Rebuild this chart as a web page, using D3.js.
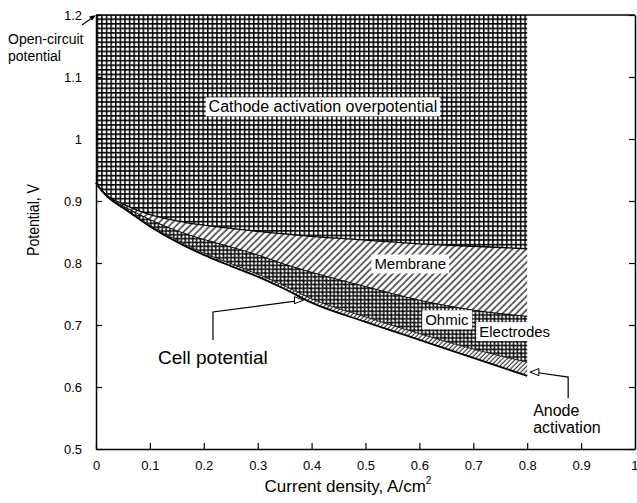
<!DOCTYPE html>
<html>
<head>
<meta charset="utf-8">
<title>Cell potential breakdown</title>
<script src="https://cdn.jsdelivr.net/npm/d3@7"></script>
<style>
  body { margin: 0; background: white; }
  text { font-family: "Liberation Sans", Arial, sans-serif; fill: #000; }
</style>
</head>
<body>
<div id="chart"></div>
<script>
  // current density, A/cm2
  var currentDensity = [0, 0.01, 0.025, 0.05, 0.1, 0.15, 0.2, 0.25, 0.3, 0.35, 0.4, 0.5, 0.6, 0.7, 0.8];
  // potential at the lower edge of each loss band, V
  var cathodeEdge  = [0.929, 0.918, 0.906, 0.895, 0.878, 0.868, 0.861, 0.856, 0.851, 0.847, 0.843, 0.837, 0.831, 0.827, 0.823];
  var membraneEdge = [0.929, 0.917, 0.904, 0.892, 0.870, 0.852, 0.838, 0.826, 0.813, 0.798, 0.785, 0.762, 0.740, 0.724, 0.714];
  var anodeEdge    = [0.929, 0.918, 0.905, 0.890, 0.861, 0.837, 0.816, 0.799, 0.782, 0.763, 0.742, 0.713, 0.686, 0.661, 0.640];
  var cellPotential = [0.929, 0.917, 0.904, 0.889, 0.859, 0.834, 0.813, 0.795, 0.778, 0.758, 0.736, 0.705, 0.676, 0.647, 0.618];

  var xTicks = [0, 0.1, 0.2, 0.3, 0.4, 0.5, 0.6, 0.7, 0.8, 0.9, 1];
  var xTickLabels = ["0", "0.1", "0.2", "0.3", "0.4", "0.5", "0.6", "0.7", "0.8", "0.9", "1"];
  var yTicks = [0.5, 0.6, 0.7, 0.8, 0.9, 1, 1.1, 1.2];
  var yTickLabels = ["0.5", "0.6", "0.7", "0.8", "0.9", "1", "1.1", "1.2"];

  var width = 637;
  var height = 503;
  var x = d3.scaleLinear().domain([0, 1]).range([96, 635]);
  var y = d3.scaleLinear().domain([0.5, 1.2]).range([449, 15]);

  var svg = d3.select("#chart").append("svg")
    .attr("width", width)
    .attr("height", height);

  var defs = svg.append("defs");

  // fill patterns
  var grid = defs.append("pattern").attr("id", "grid")
    .attr("patternUnits", "userSpaceOnUse").attr("width", 4.6).attr("height", 4.6);
  grid.append("rect").attr("width", 4.6).attr("height", 4.6).attr("fill", "white");
  grid.append("path").attr("d", "M0,0.75H4.6M0.75,0V4.6")
    .attr("stroke", "#000").attr("stroke-width", 1.5);

  var hatch = defs.append("pattern").attr("id", "hatch")
    .attr("patternUnits", "userSpaceOnUse").attr("width", 4.8).attr("height", 4.8)
    .attr("patternTransform", "rotate(45)");
  hatch.append("rect").attr("width", 4.8).attr("height", 4.8).attr("fill", "white");
  hatch.append("line").attr("x1", 1).attr("x2", 1).attr("y1", 0).attr("y2", 4.8)
    .attr("stroke", "#000").attr("stroke-width", 1.2);

  var rings = defs.append("pattern").attr("id", "rings")
    .attr("patternUnits", "userSpaceOnUse").attr("width", 5.4).attr("height", 5.4)
    .attr("patternTransform", "rotate(45)");
  rings.append("rect").attr("width", 5.4).attr("height", 5.4).attr("fill", "white");
  rings.append("circle").attr("cx", 2.7).attr("cy", 2.7).attr("r", 2.1)
    .attr("fill", "none").attr("stroke", "#000").attr("stroke-width", 1.3);

  var fine = defs.append("pattern").attr("id", "fine")
    .attr("patternUnits", "userSpaceOnUse").attr("width", 3.2).attr("height", 3.2)
    .attr("patternTransform", "rotate(45)");
  fine.append("rect").attr("width", 3.2).attr("height", 3.2).attr("fill", "white");
  fine.append("line").attr("x1", 1).attr("x2", 1).attr("y1", 0).attr("y2", 3.2)
    .attr("stroke", "#000").attr("stroke-width", 0.9);

  var rows = currentDensity.map(function (d, i) {
    return { i: d, cathode: cathodeEdge[i], membrane: membraneEdge[i], anode: anodeEdge[i], cell: cellPotential[i] };
  });

  function band(lo, hi) {
    return d3.area()
      .x(function (d) { return x(d.i); })
      .y0(function (d) { return y(d[lo]); })
      .y1(function (d) { return hi ? y(d[hi]) : y(1.2); })
      .curve(d3.curveMonotoneX);
  }
  function edge(key) {
    return d3.line()
      .x(function (d) { return x(d.i); })
      .y(function (d) { return y(d[key]); })
      .curve(d3.curveMonotoneX);
  }

  svg.append("path").attr("d", band("cathode", null)(rows)).attr("fill", "url(#grid)");
  svg.append("path").attr("d", band("membrane", "cathode")(rows)).attr("fill", "url(#hatch)");
  svg.append("path").attr("d", band("anode", "membrane")(rows)).attr("fill", "url(#rings)");
  svg.append("path").attr("d", band("cell", "anode")(rows)).attr("fill", "url(#fine)");

  svg.append("path").attr("d", edge("cathode")(rows)).attr("fill", "none").attr("stroke", "#000").attr("stroke-width", 1.3);
  svg.append("path").attr("d", edge("membrane")(rows)).attr("fill", "none").attr("stroke", "#000").attr("stroke-width", 1);
  svg.append("path").attr("d", edge("anode")(rows)).attr("fill", "none").attr("stroke", "#000").attr("stroke-width", 0.8);
  svg.append("path").attr("d", edge("cell")(rows)).attr("fill", "none").attr("stroke", "#000").attr("stroke-width", 1.8);

  // axes, ticks point inward
  var xAxis = svg.append("g").attr("transform", "translate(0," + y(0.5) + ")")
    .call(d3.axisBottom(x).tickValues(xTicks)
      .tickFormat(function (d, i) { return xTickLabels[i]; })
      .tickSizeInner(-6).tickSizeOuter(0).tickPadding(12));
  var yAxis = svg.append("g").attr("transform", "translate(" + x(0) + ",0)")
    .call(d3.axisLeft(y).tickValues(yTicks)
      .tickFormat(function (d, i) { return yTickLabels[i]; })
      .tickSizeInner(-6).tickSizeOuter(0).tickPadding(14));
  var rAxis = svg.append("g").attr("transform", "translate(" + x(1) + ",0)")
    .call(d3.axisRight(y).tickValues(yTicks).tickFormat("")
      .tickSizeInner(-6).tickSizeOuter(0));
  svg.append("line").attr("x1", x(0)).attr("x2", x(1)).attr("y1", y(1.2)).attr("y2", y(1.2))
    .attr("stroke", "#000").attr("stroke-width", 1.5);

  [xAxis, yAxis, rAxis].forEach(function (g) {
    g.selectAll(".domain").attr("stroke-width", 1.5);
    g.selectAll(".tick line").attr("stroke-width", 1.2);
    g.selectAll("text").attr("font-size", 13).attr("font-family", "Liberation Sans, Arial, sans-serif");
  });
  // last label sits on the window edge
  xAxis.selectAll(".tick text").filter(function (d) { return d === 1; })
    .attr("text-anchor", "end").attr("dx", 3);

  // axis titles
  var xt = svg.append("text").attr("x", 348).attr("y", 492)
    .attr("text-anchor", "middle").attr("font-size", 17)
    .text("Current density, A/cm");
  xt.append("tspan").attr("dy", -8).attr("font-size", 10).text("2");

  svg.append("text")
    .attr("transform", "translate(39,220) rotate(-90)")
    .attr("text-anchor", "middle").attr("font-size", 17)
    .attr("textLength", 72).attr("lengthAdjust", "spacingAndGlyphs")
    .text("Potential, V");

  // boxed labels inside the bands
  function boxed(txt, cx, cy, size, anchor) {
    var g = svg.append("g");
    var t = g.append("text").attr("x", cx).attr("y", cy).attr("dy", "0.35em")
      .attr("text-anchor", anchor || "middle").attr("font-size", size).text(txt);
    var b = t.node().getBBox();
    g.insert("rect", "text").attr("x", b.x - 3).attr("y", b.y - 1)
      .attr("width", b.width + 6).attr("height", b.height + 2).attr("fill", "white");
  }
  boxed("Cathode activation overpotential", x(0.421), y(1.052), 16);
  boxed("Membrane", x(0.583), y(0.798), 15);
  boxed("Ohmic", x(0.651), y(0.708), 15);
  boxed("Electrodes", x(0.711), y(0.689), 15, "start");

  // pointers
  function openHead(tx, ty, dir) {
    svg.append("path")
      .attr("d", "M" + tx + "," + ty + "l" + (-9 * dir) + ",-3.5v7z")
      .attr("fill", "white").attr("stroke", "#000").attr("stroke-width", 1);
  }
  svg.append("path")
    .attr("d", "M" + x(0.217) + "," + y(0.676) + "V" + y(0.721) + "L" + (x(0.385) - 8) + "," + (y(0.740) + 1))
    .attr("fill", "none").attr("stroke", "#000").attr("stroke-width", 1.2);
  openHead(x(0.385), y(0.740), 1);
  svg.append("text").attr("x", x(0.115)).attr("y", y(0.648)).attr("dy", "0.35em")
    .attr("font-size", 19).text("Cell potential");

  svg.append("path")
    .attr("d", "M" + (x(0.805) + 8) + "," + y(0.623) + "L" + x(0.876) + "," + y(0.616) + "V" + y(0.582))
    .attr("fill", "none").attr("stroke", "#000").attr("stroke-width", 1.2);
  openHead(x(0.805), y(0.624), -1);
  svg.append("text").attr("x", x(0.811)).attr("y", y(0.563)).attr("dy", "0.35em")
    .attr("font-size", 16).text("Anode");
  svg.append("text").attr("x", x(0.811)).attr("y", y(0.535)).attr("dy", "0.35em")
    .attr("font-size", 16).text("activation");

  // open-circuit arrow to the top-left corner
  svg.append("line").attr("x1", x(-0.026)).attr("y1", y(1.184)).attr("x2", x(0) - 2).attr("y2", y(1.2) + 1.5)
    .attr("stroke", "#000").attr("stroke-width", 1.2);
  svg.append("path")
    .attr("d", "M" + x(0) + "," + y(1.2) + "l-7,1.5l3,4z").attr("fill", "#000");
  svg.append("text").attr("x", 8).attr("y", 39).attr("dy", "0.35em").attr("font-size", 14).text("Open-circuit");
  svg.append("text").attr("x", 8).attr("y", 56).attr("dy", "0.35em").attr("font-size", 14).text("potential");
</script>
</body>
</html>
